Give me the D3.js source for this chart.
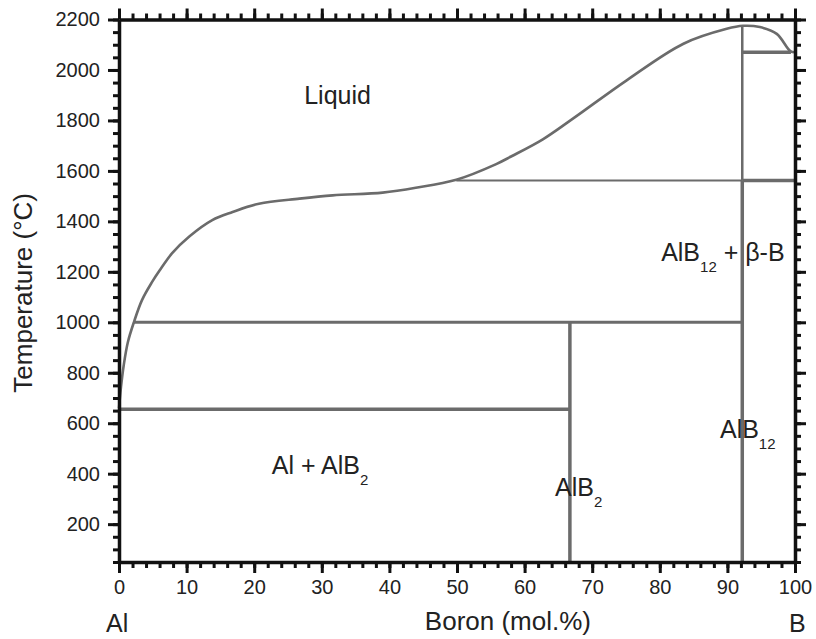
<!DOCTYPE html>
<head>
<meta charset="utf-8">
<title>Al-B phase diagram</title>
<script type="text/javascript" src="https://d3js.org/d3.v7.min.js"></script>
<style>
body { margin: 0; background: #fff; }
.axis path, .axis line { stroke: #111; }
.axis path { stroke-width: 3.5; }
.axis line { stroke-width: 3; }
.axis text { fill: #222; font-family: Arial, "Liberation Sans", sans-serif; font-size: 20px; }
.phase { fill: none; stroke: #6b6b6b; stroke-linecap: butt; }
.lbl { fill: #222; font-family: Arial, "Liberation Sans", sans-serif; font-size: 25px; }
.title { fill: #222; font-family: Arial, "Liberation Sans", sans-serif; font-size: 26px; }
</style>
</head>
<body>
<div id="container"></div>
<script>
//----------------------------DATA------------------------------//
// liquidus: boron mol.% vs temperature °C
const liqBoron = [0, 0.3, 0.7, 1.3, 2.2, 3.4, 4.9, 6, 7.9, 10.4, 13.8, 16.8, 20.7, 26.7, 31.6, 39, 43.9, 49.9, 55.8, 58, 62.7, 67.2, 75.1, 83.5, 89.9, 92.3, 94.8, 97.3, 99.3, 100];
const liqTemp  = [660, 745, 830, 920, 1000, 1088, 1160, 1205, 1275, 1340, 1405, 1437, 1470, 1490, 1503, 1514, 1533, 1565, 1627, 1657, 1725, 1808, 1959, 2104, 2163, 2175, 2170, 2143, 2075, 2070];

// invariant lines [x1, t1, x2, t2, width]
const phaseLines = [
  [0, 655, 66.7, 655, 3.5],
  [2.2, 1000, 92.2, 1000, 3],
  [66.7, 1000, 66.7, 50, 3.5],
  [49.9, 1562, 92.2, 1562, 2],
  [92.2, 1562, 100, 1562, 3.5],
  [92.2, 2175, 92.2, 1562, 2.5],
  [92.2, 1562, 92.2, 50, 3.5],
  [92.2, 2070, 99.4, 2070, 3.5]
];

const xMajor = d3.range(0, 101, 10);
const xMinor = d3.range(0, 101, 2);
const yMajor = d3.range(200, 2201, 200);
const yMinor = d3.range(50, 2201, 50);

// region labels [boron, temp, main, subscript, rest]
const regionLabels = [
  [27.4, 1865, "Liquid", "", ""],
  [80.2, 1244, "AlB", "12", " + β-B"],
  [88.9, 543, "AlB", "12", ""],
  [64.5, 310, "AlB", "2", ""],
  [22.6, 398, "Al + AlB", "2", ""]
];

//-----------------------------SVG------------------------------//
const width = 816, height = 639;
const x0 = 119, x1 = 795, y0 = 562, y1 = 19.5;

const svg = d3.select("#container").append("svg")
    .attr("width", width)
    .attr("height", height);

const xScale = d3.scaleLinear().domain([0, 100]).range([x0, x1]);
const yScale = d3.scaleLinear().domain([50, 2200]).range([y0, y1]);

//----------------------------LINES-----------------------------//
const line = d3.line()
    .x(d => xScale(d[0]))
    .y(d => yScale(d[1]))
    .curve(d3.curveCatmullRom.alpha(0.5));

svg.selectAll(".inv")
    .data(phaseLines)
    .enter().append("line")
    .attr("class", "phase inv")
    .attr("x1", d => xScale(d[0]))
    .attr("y1", d => yScale(d[1]))
    .attr("x2", d => xScale(d[2]))
    .attr("y2", d => yScale(d[3]))
    .style("stroke-width", d => d[4]);

svg.append("path")
    .datum(liqBoron.map((b, i) => [b, liqTemp[i]]))
    .attr("class", "phase")
    .style("stroke-width", 2.6)
    .attr("d", line);

//-----------------------------AXES-----------------------------//
function minorAxis(axisFn, scale, vals, size, tr) {
  svg.append("g")
      .attr("class", "axis")
      .attr("transform", tr)
      .call(axisFn(scale).tickValues(vals).tickSize(size).tickSizeOuter(0).tickFormat(""))
      .select(".domain").remove();
}
minorAxis(d3.axisBottom, xScale, xMinor, 6, `translate(0,${y0})`);
minorAxis(d3.axisTop, xScale, xMinor, 6, `translate(0,${y1})`);
minorAxis(d3.axisLeft, yScale, yMinor, 6, `translate(${x0},0)`);
minorAxis(d3.axisRight, yScale, yMinor, 6, `translate(${x1},0)`);

svg.append("g").attr("class", "axis")
    .attr("transform", `translate(0,${y0})`)
    .call(d3.axisBottom(xScale).tickValues(xMajor).tickSize(11).tickSizeOuter(0).tickPadding(7).tickFormat(d3.format("d")));
svg.append("g").attr("class", "axis")
    .attr("transform", `translate(0,${y1})`)
    .call(d3.axisTop(xScale).tickValues(xMajor).tickSize(11).tickSizeOuter(0).tickFormat(""));
svg.append("g").attr("class", "axis")
    .attr("transform", `translate(${x0},0)`)
    .call(d3.axisLeft(yScale).tickValues(yMajor).tickSize(11).tickSizeOuter(0).tickPadding(8).tickFormat(d3.format("d")));
svg.append("g").attr("class", "axis")
    .attr("transform", `translate(${x1},0)`)
    .call(d3.axisRight(yScale).tickValues(yMajor).tickSize(11).tickSizeOuter(0).tickFormat(""));

//----------------------------TITLES----------------------------//
svg.append("text")
    .attr("class", "title")
    .attr("transform", "translate(32,193) rotate(-90)")
    .attr("text-anchor", "end")
    .text("Temperature (°C)");

svg.append("text")
    .attr("class", "title")
    .attr("x", 591)
    .attr("y", 630)
    .attr("text-anchor", "end")
    .text("Boron (mol.%)");

svg.append("text").attr("class", "lbl").attr("x", 106).attr("y", 632).text("Al");
svg.append("text").attr("class", "lbl").attr("x", 789).attr("y", 632).text("B");

//----------------------------LABELS----------------------------//
const lbl = svg.selectAll(".region")
    .data(regionLabels)
    .enter().append("text")
    .attr("class", "lbl region")
    .attr("x", d => xScale(d[0]))
    .attr("y", d => yScale(d[1]));
lbl.append("tspan").text(d => d[2]);
lbl.append("tspan")
    .attr("dy", 11)
    .style("font-size", "15px")
    .text(d => d[3]);
lbl.append("tspan")
    .attr("dy", -11)
    .text(d => d[4]);
</script>
</body>
